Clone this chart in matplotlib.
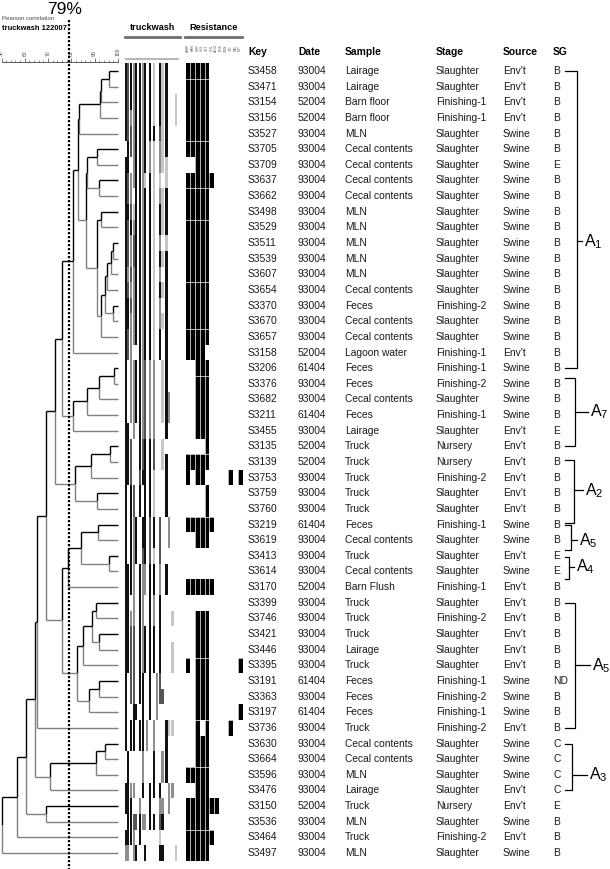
import matplotlib
matplotlib.use("Agg")
import matplotlib.pyplot as plt

plt.rcParams["font.family"] = ["Liberation Sans", "DejaVu Sans"]
plt.rcParams["mathtext.fontset"] = "custom"
plt.rcParams["mathtext.rm"] = "Liberation Sans"

# ---- table data (dendrogram order, top to bottom) ----
KEYS = ["S3458", "S3471", "S3154", "S3156", "S3527", "S3705", "S3709", "S3637", "S3662",
        "S3498", "S3529", "S3511", "S3539", "S3607", "S3654", "S3370", "S3670", "S3657",
        "S3158", "S3206", "S3376", "S3682", "S3211", "S3455", "S3135", "S3139", "S3753",
        "S3759", "S3760", "S3219", "S3619", "S3413", "S3614", "S3170", "S3399", "S3746",
        "S3421", "S3446", "S3395", "S3191", "S3363", "S3197", "S3736", "S3630", "S3664",
        "S3596", "S3476", "S3150", "S3536", "S3464", "S3497"]
DATES = ["93004", "93004", "52004", "52004", "93004", "93004", "93004", "93004", "93004",
         "93004", "93004", "93004", "93004", "93004", "93004", "93004", "93004", "93004",
         "52004", "61404", "93004", "93004", "61404", "93004", "52004", "52004", "93004",
         "93004", "93004", "61404", "93004", "93004", "93004", "52004", "93004", "93004",
         "93004", "93004", "93004", "61404", "93004", "61404", "93004", "93004", "93004",
         "93004", "93004", "52004", "93004", "93004", "93004"]
SAMPLES = ["Lairage", "Lairage", "Barn floor", "Barn floor", "MLN", "Cecal contents",
           "Cecal contents", "Cecal contents", "Cecal contents", "MLN", "MLN", "MLN", "MLN",
           "MLN", "Cecal contents", "Feces", "Cecal contents", "Cecal contents", "Lagoon water",
           "Feces", "Feces", "Cecal contents", "Feces", "Lairage", "Truck", "Truck", "Truck",
           "Truck", "Truck", "Feces", "Cecal contents", "Truck", "Cecal contents", "Barn Flush",
           "Truck", "Truck", "Truck", "Lairage", "Truck", "Feces", "Feces", "Feces", "Truck",
           "Cecal contents", "Cecal contents", "MLN", "Lairage", "Truck", "MLN", "Truck", "MLN"]
STAGES = ["Slaughter", "Slaughter", "Finishing-1", "Finishing-1", "Slaughter", "Slaughter",
          "Slaughter", "Slaughter", "Slaughter", "Slaughter", "Slaughter", "Slaughter",
          "Slaughter", "Slaughter", "Slaughter", "Finishing-2", "Slaughter", "Slaughter",
          "Finishing-1", "Finishing-1", "Finishing-2", "Slaughter", "Finishing-1", "Slaughter",
          "Nursery", "Nursery", "Finishing-2", "Slaughter", "Slaughter", "Finishing-1",
          "Slaughter", "Slaughter", "Slaughter", "Finishing-1", "Slaughter", "Finishing-2",
          "Slaughter", "Slaughter", "Slaughter", "Finishing-1", "Finishing-2", "Finishing-1",
          "Finishing-2", "Slaughter", "Slaughter", "Slaughter", "Slaughter", "Nursery",
          "Slaughter", "Finishing-2", "Slaughter"]
SOURCES = ["Env't"] * 4 + ["Swine"] * 14 + ["Env't"] + ["Swine"] * 4 + ["Env't"] * 6 + \
          ["Swine", "Swine", "Env't", "Swine", "Env't"] + ["Env't"] * 5 + ["Swine"] * 3 + \
          ["Env't"] + ["Swine"] * 3 + ["Env't", "Env't", "Swine", "Env't", "Swine"]
SGS = ["B"] * 6 + ["E"] + ["B"] * 16 + ["E"] + ["B"] * 7 + ["E", "E"] + ["B"] * 6 + \
      ["ND"] + ["B"] * 3 + ["C"] * 4 + ["E", "B", "B", "B"]

COLUMNS = ["Key", "Date", "Sample", "Stage", "Source", "SG"]

# ---- dendrogram: (child, child, Pearson similarity %); ints refer to earlier merges ----
MERGES = [
    ("S3458", "S3471", 96.1), (0, "S3154", 92.8), (1, "S3156", 92.3), (2, "S3527", 83.3),
    ("S3705", "S3709", 91.1), ("S3637", "S3662", 91.7), (4, 5, 86.8),
    ("S3498", "S3529", 92.6), ("S3511", "S3539", 98.0), (8, "S3607", 96.9),
    (9, "S3654", 95.2), ("S3370", "S3670", 98.0), (10, 11, 94.4), (12, "S3657", 92.7),
    (7, 13, 90.9), (6, 14, 86.3), (3, 15, 82.7), (16, "S3158", 80.6),
    ("S3206", "S3376", 98.4), (18, "S3682", 91.8), (19, "S3211", 86.8), (20, "S3455", 80.6),
    (17, 21, 75.8), ("S3135", "S3139", 96.6), (23, "S3753", 88.3), ("S3759", "S3760", 90.9),
    (24, 25, 81.5), (22, 26, 73.0), ("S3219", "S3619", 91.5), ("S3413", "S3614", 96.3),
    (28, 29, 84.1), (30, "S3170", 78.7), ("S3399", "S3746", 90.4), ("S3421", "S3446", 91.8),
    (32, 33, 88.7), (34, "S3395", 85.1), ("S3191", "S3363", 91.8), (36, "S3197", 87.7),
    (35, 37, 82.5), (31, 38, 76.1), (27, 39, 69.1), (40, "S3736", 65.1),
    ("S3630", "S3664", 94.5), (42, "S3596", 90.4), (43, "S3476", 70.8), (41, 44, 64.4),
    ("S3150", "S3536", 69.0), (45, 46, 60.5), (47, "S3464", 56.5), (48, "S3497", 50.0),
]
CUTOFF = 79
SCALE_TICKS = [50, 60, 70, 80, 90, 100]

# ---- gel fingerprint: band positions (% of lane) and per-lane intensity ----
BAND_POS = [1.5, 6.0, 10.9, 16.0, 20.0, 26.7, 32.4, 36.7, 40.5, 46.0, 52.2, 57.8,
            64.2, 68.5, 75.5, 80.0, 86.4, 92.4]
GEL = ["kdkgkkgk.kl.klk...", "kdkgkkgk.kl.klk...", "kdkgkkgk.kl.klk..l", "kdggkkgk.kl.klk..l",
       "kddgkkgk.kk.dlk...", ".kdgkkgk.gl.glk...", "kk.gkkgk.gl.gll...", "kdggkkgl.kl.l.l...",
       "kdg.kkgk.kl.glk...", "kkdlkkgk.kl.klk...", "kdkgkkgk.kl.klk...", "kdgdkkgk.kl.g.l...",
       "kdgdkkgk.kl.klk...", "kgdgkkgk.kl.g.k...", "kdggkkgk.kl.klk...", "kkdgkkgk.kl.g.k...",
       "kkggkkgk.kl.glk...", "kdggkkgk.kl.k.k...", "kdg..kgk.kl.k.k...", "k.ggkkgd.gg..lk...",
       "k.ggkkgd.gg..lk...", "k.ggkkgd.gg..lkg..", "k.ggkkgd.gg..lkg..", "kk.g.kgd.gg...k...",
       "kkd..kdk.kd..l....", "kkd..kdk.kd..lk...", "kkd..dkk.kl...k...", "k.kd.k.k.kl...k...",
       "k.kd.k.k.kl...k...", "k.kgk.kk.dk.d..g..", "k.kgk.kk.dk.d..g..", "k.kgk.dk.dl.d.....",
       "kkkg.kgg.kk.g.k...", "kkkg.kgg.kk.g.k...", "kk.g.kg..kg.k.....", "kkgg.kg..kg.k...l.",
       "kkdd.kgk.kk.k.....", "kkdd.kgk.kk.k...l.", "kkdd.kgk.kk.k...l.", "k.dd.kk..k.gd.....",
       "k.dd.kk..k.gdd....", "k..kk.k..k.g......", "k.kk.kk.g.g...kll.", "k.kk.kk.g.g...k...",
       ".k....g...k..gk...", ".k....g...k..gk...", "kkgg..k..kk.k..gg.", "kkk..g...k..gg.g..",
       ".kkddkgg.kk.dk....", "kkkg.k......l.....", "gg.gk..k....kk...l"]

# ---- antimicrobial resistance (1 = resistant) ----
DRUGS = ["AMP", "KAN", "STR", "SUL", "TET", "CHL", "AUG", "FOX", "GEN", "TIO", "NAL", "CIP"]
RES = (["111110000000"] * 6 + ["001110000000", "111111000000"] + ["111110000000"] * 10 +
       ["111100000000"] + ["001110000000"] * 5 + ["000010000000", "111110000000",
       "101100000101", "000010000000", "000010000000", "111111000000", "001110000000",
       "000000000000", "000000000000", "111111000000", "000000000000"] +
       ["001110000000"] * 3 + ["101110000001", "001110000000", "001110000000",
       "001110000001", "001010000100", "001110000000", "001110000000", "111110000000",
       "001110000000", "111111100000", "111110000000", "111111000000", "111110000000"])
RES_BREAKS = [1, 5, 8, 10, 14, 17, 20, 25, 29, 38, 42, 45, 49]

# ---- clusters: (subscript, first row, last row, label row), rows 1-based ----
CLUSTERS = [("1", 1, 20, 11.9), ("7", 20.6, 25, 22.8), ("2", 25.9, 29.9, 27.8),
            ("5", 30.0, 31.6, 31.0), ("4", 32.1, 33.5, 32.7), ("5", 35, 43, 39.0),
            ("3", 44, 47, 46.0)]

# ---------------- layout (pixels) ----------------
W, H = 610, 869
ROW0, ROWH = 71, 15.64
BRACKET_X = [577, 575, 574, 571, 569, 575, 572]
LABEL_X = [584, 590, 585, 579, 576, 592, 589]
COL_X = [248, 298, 345, 436, 503, 553]
BLACK, GREY = "#000000", "#808080"
GEL_COLORS = {"k": "#111111", "d": "#555555", "g": "#8e8e8e", "l": "#c6c6c6"}


def row_at(y):
    return (y - ROW0) / ROWH


def row_y(r):
    return ROW0 + r * ROWH


fig = plt.figure(figsize=(W / 100, H / 100), dpi=100)


def px_axes(x0, y0, x1, y1):
    a = fig.add_axes([x0 / W, 1 - y1 / H, (x1 - x0) / W, (y1 - y0) / H])
    a.set_ylim(row_at(y1), row_at(y0))
    return a


# dendrogram
ax_d = px_axes(1.5, 62, 118, 861)
ax_d.set_xlim(50, 100)
leaf_row = {k: i for i, k in enumerate(KEYS)}
node_x, node_y = [], []


def pos(ref):
    if isinstance(ref, str):
        return 100.0, leaf_row[ref]
    return node_x[ref], node_y[ref]


for a, b, s in MERGES:
    xa, ya = pos(a)
    xb, yb = pos(b)
    ym = (ya + yb) / 2
    kw = dict(lw=1.0, solid_capstyle="butt", clip_on=False)
    ax_d.plot([xa, s], [ya, ya], color=BLACK, **kw)
    ax_d.plot([xb, s], [yb, yb], color=GREY, **kw)
    ax_d.plot([s, s], [ya, ym], color=BLACK, **kw)
    ax_d.plot([s, s], [ym, yb], color=GREY, **kw)
    node_x.append(s)
    node_y.append(ym)

ax_d.plot([CUTOFF, CUTOFF], [row_at(20), row_at(869)], color=BLACK, lw=1.6,
          linestyle=(0, (1, 0.8)), clip_on=False, zorder=5)
for sp in ["left", "right", "bottom"]:
    ax_d.spines[sp].set_visible(False)
ax_d.spines["top"].set_linewidth(0.6)
ax_d.spines["top"].set_color("#444444")
ax_d.set_yticks([])
ax_d.xaxis.tick_top()
ax_d.set_xticks(SCALE_TICKS)
ax_d.set_xticklabels([str(t) for t in SCALE_TICKS], rotation=90, fontsize=3.6, color="#333333")
ax_d.set_xticks(range(50, 101, 2), minor=True)
ax_d.tick_params(axis="x", which="major", length=3, width=0.5, pad=1, colors="#444444")
ax_d.tick_params(axis="x", which="minor", length=1.5, width=0.4, colors="#444444")

# gel
ax_g = px_axes(125, 55, 180, 861)
ax_g.set_xlim(0, 100)
for j, bp in enumerate(BAND_POS):
    rows = [i for i, lane in enumerate(GEL) if lane[j] != "."]
    ax_g.bar([bp] * len(rows), [1] * len(rows), width=4.3, bottom=[r - 0.5 for r in rows],
             color=[GEL_COLORS[GEL[r][j]] for r in rows], linewidth=0)
ax_g.plot([0, 96], [row_at(58.5)] * 2, color="#b5b5b5", lw=1.4)
ax_g.axis("off")

# resistance
ax_r = px_axes(185.5, 62, 185.5 + 4.75 * len(DRUGS), 861)
ax_r.set_xlim(0, len(DRUGS))
for j in range(len(DRUGS)):
    rows = [i for i, r in enumerate(RES) if r[j] == "1"]
    ax_r.bar([j] * len(rows), [1] * len(rows), width=1, bottom=[r - 0.5 for r in rows],
             align="edge", color=BLACK, linewidth=0)
    ax_r.text(j + 0.5, row_at(48), DRUGS[j], rotation=90, fontsize=2.4, color="#555555",
              ha="center", va="center", clip_on=False)
for j in range(1, len(DRUGS)):
    ax_r.axvline(j, color="white", lw=0.5)
for b in RES_BREAKS:
    ax_r.axhline(b - 0.5, color="white", lw=0.5)
ax_r.axis("off")

# overlay for headers, table and cluster brackets
ax_t = fig.add_axes([0, 0, 1, 1])
ax_t.set_xlim(0, W)
ax_t.set_ylim(H, 0)
ax_t.axis("off")

ax_t.text(64.5, 10, f"{CUTOFF}%", fontsize=12.5, ha="center", va="center")
ax_t.text(2, 19, "Pearson correlation", fontsize=4.3, color="#444444", va="center")
ax_t.text(2, 28.5, "truckwash 122007", fontsize=5.4, fontweight="bold", va="center")

ax_t.text(152.5, 27, "truckwash", fontsize=6.6, fontweight="bold", ha="center", va="center")
ax_t.plot([125, 180], [37, 37], color="#6f6f6f", lw=2)
ax_t.text(213.5, 27, "Resistance", fontsize=6.6, fontweight="bold", ha="center", va="center")
ax_t.plot([185, 242], [37, 37], color="#6f6f6f", lw=2)

table = [KEYS, DATES, SAMPLES, STAGES, SOURCES, SGS]
for cx, name, col in zip(COL_X, COLUMNS, table):
    ax_t.text(cx, 52, name, fontsize=7.4, fontweight="bold", va="center")
    for i, val in enumerate(col):
        ax_t.text(cx, row_y(i), val, fontsize=7.4, color="#1a1a1a", va="center")

for (sub, r0, r1, rl), bx, lx in zip(CLUSTERS, BRACKET_X, LABEL_X):
    y0, y1, yl = row_y(r0 - 1), row_y(r1 - 1), row_y(rl - 1)
    ax_t.plot([565, bx, bx, 565], [y0, y0, y1, y1], color=BLACK, lw=0.9)
    ax_t.plot([bx, lx - 2], [yl, yl], color=BLACK, lw=0.9)
    ax_t.text(lx, yl, r"$\mathrm{A}_{" + sub + "}$", fontsize=11.5, va="center")

fig.savefig("out.png", dpi=100)
